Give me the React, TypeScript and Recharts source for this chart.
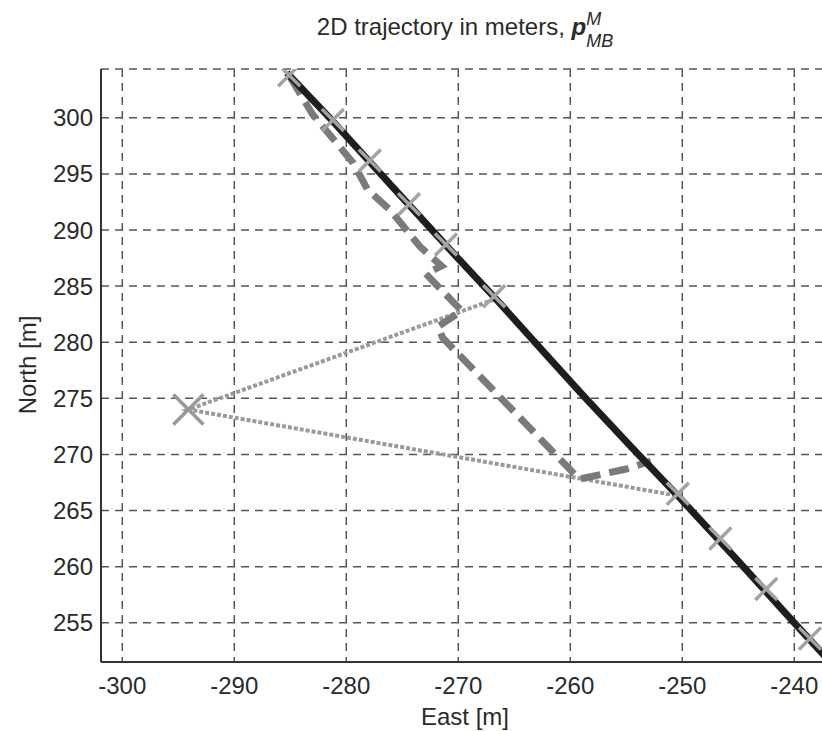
import React from 'react';
import { ComposedChart, Line, Scatter, XAxis, YAxis, CartesianGrid } from 'recharts';

// true trajectory (black solid)
const trueEast = [-285.3, -281.4, -275.2, -270.7, -266.5, -261.8, -258.8, -254.5, -250.2, -245.0, -240.1, -235.5];
const trueNorth = [304.0, 299.9, 293.1, 288.2, 283.7, 278.5, 275.2, 270.6, 266.1, 260.5, 255.1, 250.1];

// estimated trajectory (gray dashed)
const estEast = [-285.0, -283.0, -279.4, -278.1, -276.1, -273.4, -271.5, -272.9, -269.7, -271.8, -271.4, -259.2, -255.0, -252.8];
const estNorth = [303.6, 300.3, 296.0, 293.6, 291.8, 288.5, 286.8, 286.1, 282.8, 281.4, 280.4, 267.8, 268.7, 269.4];

// position fixes (gray x marks)
const fixEast = [-285.1, -281.2, -277.9, -274.4, -271.1, -266.8, -250.4, -246.6, -242.5, -238.6];
const fixNorth = [303.8, 299.8, 296.2, 292.3, 288.7, 284.1, 266.5, 262.5, 258.0, 253.6];

// landmark and the rays to it (gray dotted)
const markEast = [-294.1];
const markNorth = [274.0];
const rayEast = [-266.8, -294.1, -250.3];
const rayNorth = [283.8, 274.0, 266.3];

const eastTicks = [-300, -290, -280, -270, -260, -250, -240];
const northTicks = [255, 260, 265, 270, 275, 280, 285, 290, 295, 300];

const zip = (xs: number[], ys: number[]) => xs.map((x, i) => ({ x, y: ys[i] }));

const trueData = zip(trueEast, trueNorth);
const estData = zip(estEast, estNorth);
const fixData = zip(fixEast, fixNorth);
const markData = zip(markEast, markNorth);
const rayData = zip(rayEast, rayNorth);

const font = '"Liberation Sans", Arial, Helvetica, sans-serif';

const Cross = (size: number, color: string) => (props: any) => {
  const { cx, cy } = props;
  return (
    <g stroke={color} strokeWidth={3.5} strokeLinecap="butt">
      <line x1={cx - size} y1={cy - size} x2={cx + size} y2={cy + size} />
      <line x1={cx - size} y1={cy + size} x2={cx + size} y2={cy - size} />
    </g>
  );
};

const App = () => {
  return (
    <div style={{ position: 'absolute', left: 0, top: 0, width: 822, height: 731, overflow: 'hidden', background: '#fff', fontFamily: font, color: '#2a2a2a' }}>
      <ComposedChart width={840} height={731} margin={{ top: 69, right: 11, bottom: 0, left: 41 }}>
        <CartesianGrid stroke="#555" strokeWidth={1.5} strokeDasharray="8 6" />
        <XAxis
          type="number"
          dataKey="x"
          domain={[-301.9, -236.9]}
          ticks={eastTicks}
          interval={0}
          allowDataOverflow
          height={69}
          tickSize={0}
          tickMargin={15}
          axisLine={{ stroke: '#333', strokeWidth: 2 }}
          tickLine={false}
          tick={{ fill: '#2a2a2a', fontSize: 24, fontFamily: font }}
        />
        <YAxis
          type="number"
          dataKey="y"
          domain={[251.5, 304.35]}
          ticks={northTicks}
          interval={0}
          allowDataOverflow
          width={60}
          tickSize={0}
          tickMargin={8}
          axisLine={{ stroke: '#333', strokeWidth: 2 }}
          tickLine={false}
          tick={{ fill: '#2a2a2a', fontSize: 24, fontFamily: font }}
        />
        <Line data={rayData} dataKey="y" stroke="#9a9a9a" strokeWidth={4} strokeDasharray="4 2" dot={false} isAnimationActive={false} />
        <Line data={estData} dataKey="y" stroke="#7a7a7a" strokeWidth={7} strokeDasharray="20 9" dot={false} isAnimationActive={false} />
        <Scatter data={fixData} dataKey="y" shape={Cross(11, '#a3a3a3')} isAnimationActive={false} />
        <Scatter data={markData} dataKey="y" shape={Cross(15, '#999')} isAnimationActive={false} />
        <Line data={trueData} dataKey="y" stroke="#1e1e1e" strokeWidth={7} dot={false} isAnimationActive={false} />
      </ComposedChart>

      <div style={{ position: 'absolute', left: 0, top: 8, width: 930, textAlign: 'center', fontSize: 24, lineHeight: '28px', whiteSpace: 'nowrap' }}>
        2D trajectory in meters,{' '}
        <b><i>p</i></b>
        <span style={{ display: 'inline-block', verticalAlign: '-12px', fontSize: 18, lineHeight: '22px', fontStyle: 'italic', textAlign: 'left' }}>
          <span style={{ display: 'block' }}>M</span>
          <span style={{ display: 'block' }}>MB</span>
        </span>
      </div>

      <div style={{ position: 'absolute', left: 28, top: 365, transform: 'translate(-50%, -50%) rotate(-90deg)', fontSize: 24, lineHeight: '24px', whiteSpace: 'nowrap' }}>
        North [m]
      </div>

      <div style={{ position: 'absolute', left: 465, top: 705, transform: 'translateX(-50%)', fontSize: 24, lineHeight: '24px', whiteSpace: 'nowrap' }}>
        East [m]
      </div>
    </div>
  );
};

export default App;
